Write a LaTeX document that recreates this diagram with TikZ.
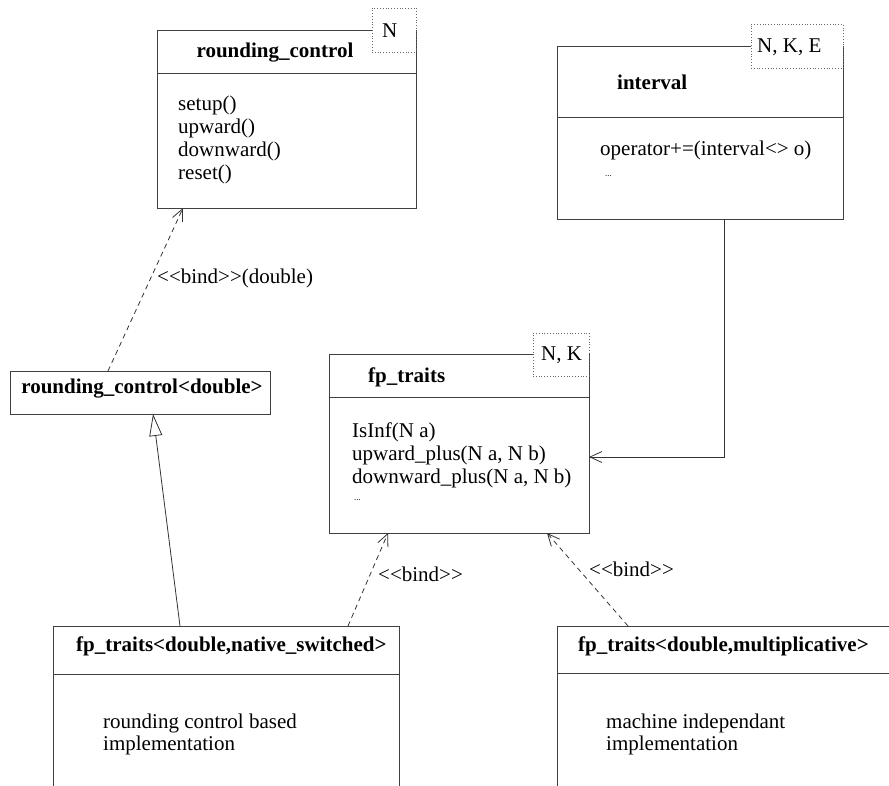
\documentclass[tikz,border=0pt]{standalone}
\usepackage{fontspec}
\setmainfont{Liberation Serif}
\usetikzlibrary{arrows.meta,calc}
\begin{document}
\begin{tikzpicture}[x=1pt,y=-1pt,
  box/.style={draw=black!75,line width=0.9pt,fill=white,anchor=north west,inner sep=0pt,outer sep=0pt},
  tmpl/.style={draw=black!60,dotted,line width=0.8pt,fill=white,anchor=north west,inner sep=0pt,outer sep=0pt},
  sepline/.style={draw=black!75,line width=0.9pt},
  txt/.style={anchor=base west,inner sep=0pt,font=\fontsize{21}{23}\selectfont},
  ttl/.style={txt,font=\fontsize{21}{23}\selectfont\bfseries},
  dots/.style={anchor=base west,inner sep=0pt,font=\fontsize{9}{10}\selectfont},
  conn/.style={draw=black!80,line width=0.8pt},
  openarrow/.style={-{Straight Barb[length=12pt,width=11pt]}},
  dep/.style={conn,openarrow,dash pattern=on 5pt off 4pt},
  inherit/.style={conn,-{Triangle[open,length=22pt,width=13pt,fill=white]}}
]
\useasboundingbox (0,0) rectangle (889,785);
\clip (0,0) rectangle (889,785);

% rounding_control
\node[box,minimum width=259pt,minimum height=178pt] (rc) at (157,30) {};
\draw[sepline] ($(rc.north west)+(0,43)$) -- ($(rc.north east)+(0,43)$);
\node[tmpl,minimum width=44pt,minimum height=44pt] (rct) at (372,8) {};
\node[txt] (rctN) at (382,37) {N};
\node[ttl,anchor=base] (rcname) at (275,57) {rounding\_control};
\node[txt,align=left,anchor=north west] (rcops) at (178,96) {setup()\\upward()\\downward()\\reset()};

% interval
\node[box,minimum width=286pt,minimum height=173pt] (iv) at (557,46) {};
\draw[sepline] ($(iv.north west)+(0,71)$) -- ($(iv.north east)+(0,71)$);
\node[tmpl,minimum width=92pt,minimum height=44pt] (ivt) at (751,24) {};
\node[txt] (ivtN) at (757,52) {N, K, E};
\node[ttl] (ivname) at (617,89) {interval};
\node[txt] (ivop) at (600,155) {operator+=(interval<> o)};
\node[dots] (ivdots) at (605,176) {...};

% fp_traits
\node[box,minimum width=260pt,minimum height=179pt] (fp) at (329,354) {};
\draw[sepline] ($(fp.north west)+(0,43)$) -- ($(fp.north east)+(0,43)$);
\node[tmpl,minimum width=56pt,minimum height=43pt] (fpt) at (533,333) {};
\node[txt] (fptN) at (541,360) {N, K};
\node[ttl] (fpname) at (368,382) {fp\_traits};
\node[txt] (fpop1) at (352,437) {IsInf(N a)};
\node[txt] (fpop2) at (352,460) {upward\_plus(N a, N b)};
\node[txt] (fpop3) at (352,483) {downward\_plus(N a, N b)};
\node[dots] (fpdots) at (354,500) {...};

% rounding_control<double>
\node[box,minimum width=260pt,minimum height=43pt] (rcd) at (10,371) {};
\node[ttl,anchor=base] (rcdname) at (142,393) {rounding\_control<double>};

% fp_traits<double,native_switched>
\node[box,minimum width=346pt,minimum height=200pt] (nat) at (53,626) {};
\draw[sepline] ($(nat.north west)+(0,48)$) -- ($(nat.north east)+(0,48)$);
\node[ttl] (natname) at (76,651) {fp\_traits<double,native\_switched>};
\node[txt] (nattxt1) at (103,728) {rounding control based};
\node[txt] (nattxt2) at (103,750) {implementation};

% fp_traits<double,multiplicative>
\node[box,minimum width=400pt,minimum height=200pt] (mul) at (557,626) {};
\draw[sepline] ($(mul.north west)+(0,47)$) -- ($(mul.north east)+(0,47)$);
\node[ttl] (mulname) at (578,651) {fp\_traits<double,multiplicative>};
\node[txt] (multxt1) at (606,728) {machine independant};
\node[txt] (multxt2) at (606,750) {implementation};

% connectors
\coordinate (c1s) at ($(rcd.north west)+(98,0)$);
\coordinate (c1e) at ($(rc.south west)+(26,0)$);
\draw[dep] (c1s) -- (c1e);
\node[txt] (lbl1) at (157,283) {<{}<bind>{}>(double)};

\coordinate (c2s) at ($(nat.north west)+(127,0)$);
\coordinate (c2e) at ($(rcd.south west)+(143,0)$);
\draw[inherit] (c2s) -- (c2e);

\coordinate (c3s) at ($(nat.north west)+(295,0)$);
\coordinate (c3e) at ($(fp.south west)+(59,0)$);
\draw[dep] (c3s) -- (c3e);
\node[txt] (lbl2) at (378,581) {<{}<bind>{}>};

\coordinate (c4s) at ($(mul.north west)+(71,0)$);
\coordinate (c4e) at ($(fp.south west)+(218,0)$);
\draw[dep] (c4s) -- (c4e);
\node[txt] (lbl3) at (589,576) {<{}<bind>{}>};

\coordinate (c5s) at ($(iv.south west)+(167,0)$);
\coordinate (c5e) at ($(fp.north east)+(0,103)$);
\draw[conn,openarrow] (c5s) |- (c5e);
\end{tikzpicture}
\end{document}
